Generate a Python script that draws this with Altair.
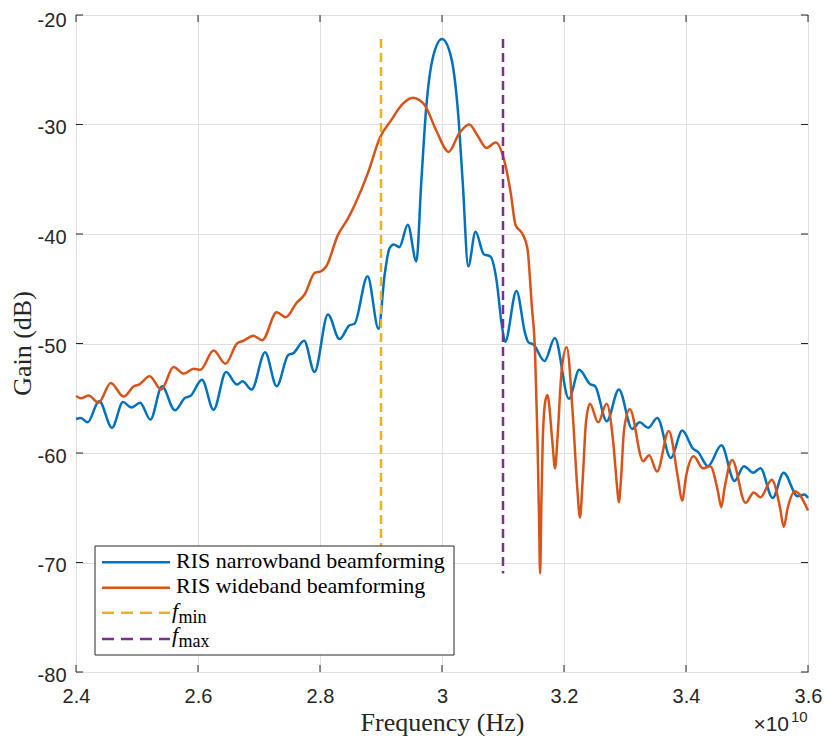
import altair as alt
import pandas as pd

# ---------------- data (frequency in units of 1e10 Hz, gain in dB) ----------------
narrow_f = [2.400, 2.408, 2.419, 2.438, 2.459, 2.477, 2.491, 2.505, 2.522, 2.541,
            2.562, 2.579, 2.5875, 2.6065, 2.6255, 2.646, 2.664, 2.673, 2.688, 2.710,
            2.729, 2.748, 2.756, 2.774, 2.791, 2.813, 2.832, 2.848, 2.8565, 2.878,
            2.896, 2.906, 2.914, 2.921, 2.930, 2.944, 2.958, 2.966, 2.974, 2.985,
            3.000, 3.0147, 3.026, 3.034, 3.043, 3.055, 3.0685, 3.0793, 3.0896, 3.0978,
            3.1035, 3.122, 3.1364, 3.1417, 3.150, 3.168, 3.185, 3.208, 3.225, 3.2425,
            3.251, 3.270, 3.290, 3.3117, 3.324, 3.338, 3.353, 3.375, 3.394, 3.4115,
            3.4196, 3.436, 3.458, 3.4795, 3.495, 3.510, 3.522, 3.542, 3.560, 3.583,
            3.594, 3.600]
narrow_g = [-56.9, -56.8, -57.2, -55.25, -57.7, -55.35, -55.85, -55.4, -56.95, -53.9,
            -56.1, -54.95, -54.8, -53.3, -56.05, -52.6, -53.75, -53.45, -54.2, -50.8,
            -53.9, -51.05, -50.9, -49.75, -52.6, -47.35, -49.6, -48.35, -48.2, -43.85,
            -48.65, -43.7, -41.3, -40.95, -41.2, -39.15, -42.5, -35.3, -28.55, -23.9,
            -22.2, -23.8, -28.7, -35.3, -42.95, -39.8, -41.85, -42.05, -44.3, -48.2,
            -49.85, -45.2, -49.1, -49.9, -50.1, -51.6, -49.5, -55.05, -52.4, -53.7,
            -53.9, -57.1, -54.2, -57.8, -57.2, -57.7, -56.8, -60.45, -57.95, -59.6,
            -59.9, -61.2, -59.3, -62.55, -61.2, -61.8, -61.4, -64.1, -61.8, -63.95,
            -63.8, -64.1]

wide_f = [2.400, 2.408, 2.4207, 2.437, 2.457, 2.478, 2.4951, 2.5033, 2.5207, 2.5397,
          2.560, 2.5766, 2.5929, 2.6038, 2.6255, 2.645, 2.664, 2.6745, 2.6908, 2.7054,
          2.729, 2.744, 2.7614, 2.775, 2.7913, 2.8022, 2.8103, 2.8293, 2.8457, 2.8565,
          2.8788, 2.8978, 2.9168, 2.9359, 2.9522, 2.9712, 2.9902, 3.0109, 3.0283, 3.0446,
          3.0582, 3.0728, 3.088, 3.1016, 3.1125, 3.1207, 3.1315, 3.140, 3.147, 3.1526,
          3.1564, 3.1591, 3.1608, 3.163, 3.1651, 3.169, 3.1728, 3.181, 3.1853, 3.1896,
          3.1962, 3.2044, 3.2142, 3.2218, 3.2262, 3.2305, 3.236, 3.2425, 3.2561, 3.2698,
          3.2807, 3.2872, 3.2899, 3.2932, 3.2986, 3.3079, 3.3297, 3.3395, 3.3526, 3.3717,
          3.3869, 3.3935, 3.4005, 3.4125, 3.4278, 3.4398, 3.4523, 3.4578, 3.4632, 3.4757,
          3.4975, 3.5111, 3.5221, 3.5406, 3.5542, 3.5602, 3.5668, 3.5787, 3.600]
wide_g = [-54.8, -55.0, -54.75, -55.4, -53.6, -54.85, -53.9, -53.75, -53.0, -54.2,
          -52.15, -52.75, -52.3, -52.4, -50.65, -51.85, -50.0, -49.75, -49.3, -49.7,
          -47.15, -47.6, -46.3, -45.5, -43.55, -43.4, -42.95, -40.1, -38.6, -37.4,
          -34.4, -31.25, -29.6, -28.1, -27.55, -28.2, -30.5, -32.5, -30.8, -30.0,
          -31.0, -32.15, -31.65, -33.2, -36.2, -39.2, -39.95, -41.3, -46.4, -50.9,
          -58.4, -65.9, -71.0, -64.4, -59.0, -55.4, -54.7, -59.0, -61.4, -58.4,
          -52.4, -50.35, -56.3, -63.2, -65.9, -62.6, -57.2, -55.5, -57.2, -55.5,
          -59.0, -63.2, -64.5, -62.6, -57.8, -56.0, -60.75, -60.2, -61.7, -58.0,
          -62.3, -64.35, -62.0, -60.3, -61.4, -61.2, -63.5, -64.95, -63.2, -60.65,
          -64.55, -63.6, -64.05, -62.45, -65.0, -66.75, -65.0, -63.5, -65.25]

band_f = [2.9, 3.1]
band_top = [-22.2, -22.2]
band_bottom = [-71.0, -71.0]

x_ticks = [2.4, 2.6, 2.8, 3.0, 3.2, 3.4, 3.6]
y_ticks = [-80, -70, -60, -50, -40, -30, -20]

legend_labels = ["RIS narrowband beamforming", "RIS wideband beamforming"]

# ---------------- styling ----------------
BLUE, ORANGE, YELLOW, PURPLE = "#0072BD", "#D95319", "#EDB120", "#7E2F8E"
AX = "#262626"
W, H = 732, 657
SANS = "Liberation Sans"
SERIF = "Liberation Serif"
LW = 2.5
DASH = [9, 5]

narrow = pd.DataFrame({"f": narrow_f, "g": narrow_g})
wide = pd.DataFrame({"f": wide_f, "g": wide_g})
bands = pd.DataFrame({"f": band_f, "g": band_top, "g2": band_bottom,
                      "c": [YELLOW, PURPLE]})
xt = pd.DataFrame({"f": x_ticks})
yt = pd.DataFrame({"g": y_ticks})

xscale = alt.Scale(domain=[2.4, 3.6], nice=False, zero=False)
yscale = alt.Scale(domain=[-80, -20], nice=False, zero=False)

x_axis = alt.Axis(values=x_ticks, labelExpr="'' + datum.value", title="Frequency (Hz)",
                  grid=True, gridColor="#dfdfdf", gridWidth=1, domain=False, ticks=False,
                  labelFlush=False, labelPadding=14, labelFont=SANS, labelFontSize=20,
                  labelColor=AX,
                  titleFont=SERIF, titleFontSize=26, titleFontWeight="normal", titleColor=AX,
                  titleX=366, titleY=58, titleAlign="center", titleBaseline="alphabetic")
y_axis = alt.Axis(values=y_ticks, labelExpr="'' + datum.value", title="Gain (dB)",
                  grid=True, gridColor="#dfdfdf", gridWidth=1, domain=False, ticks=False,
                  labelFlush=False, labelPadding=10,
                  labelOffset={"condition": {"test": "datum.value == -20", "value": 5},
                               "value": 3},
                  labelFont=SANS, labelFontSize=20, labelColor=AX,
                  titleFont=SERIF, titleFontSize=26, titleFontWeight="normal", titleColor=AX,
                  titleX=-46, titleY=328, titleAngle=270, titleAlign="center",
                  titleBaseline="alphabetic")

X = alt.X("f:Q", scale=xscale, axis=x_axis)
Y = alt.Y("g:Q", scale=yscale, axis=y_axis)
Xp = alt.X("f:Q", scale=xscale)
Yp = alt.Y("g:Q", scale=yscale)

blue_line = alt.Chart(narrow).mark_line(
    color=BLUE, strokeWidth=LW, interpolate="monotone").encode(x=X, y=Y)
orange_line = alt.Chart(wide).mark_line(
    color=ORANGE, strokeWidth=LW, interpolate="monotone").encode(x=Xp, y=Yp)

band_lines = alt.Chart(bands).mark_rule(strokeWidth=LW, strokeDash=DASH).encode(
    x=Xp, y=Yp, y2="g2:Q", color=alt.Color("c:N", scale=None, legend=None))

# inward ticks on all four sides
tick_len = 7
xtick_b = alt.Chart(xt).mark_rule(color=AX, strokeWidth=1).encode(
    x=Xp, y=alt.value(H), y2=alt.value(H - tick_len))
xtick_t = alt.Chart(xt).mark_rule(color=AX, strokeWidth=1).encode(
    x=Xp, y=alt.value(0), y2=alt.value(tick_len))
ytick_l = alt.Chart(yt).mark_rule(color=AX, strokeWidth=1).encode(
    y=Yp, x=alt.value(0), x2=alt.value(tick_len))
ytick_r = alt.Chart(yt).mark_rule(color=AX, strokeWidth=1).encode(
    y=Yp, x=alt.value(W), x2=alt.value(W - tick_len))

# legend box (drawn manually so that the subscripts can be rendered)
one = pd.DataFrame({"k": [0]})
leg_box = alt.Chart(one).mark_rect(fill="white", stroke=AX, strokeWidth=1).encode(
    x=alt.value(19), x2=alt.value(378), y=alt.value(531), y2=alt.value(640))

leg_rows_y = [547.3, 572.7, 597.7, 624]
leg_colors = [BLUE, ORANGE, YELLOW, PURPLE]
leg_layers = []
for i, (yy, cc) in enumerate(zip(leg_rows_y, leg_colors)):
    kw = {"color": cc, "strokeWidth": LW}
    if i >= 2:
        kw["strokeDash"] = [12, 7]
    leg_layers.append(alt.Chart(one).mark_rule(**kw).encode(
        x=alt.value(26), x2=alt.value(94), y=alt.value(yy)))


def txt(s, x, y, size, style="normal", font=SERIF, align="left", color="black"):
    return alt.Chart(pd.DataFrame({"s": [s]})).mark_text(
        align=align, baseline="alphabetic", font=font, fontSize=size,
        fontStyle=style, color=color).encode(x=alt.value(x), y=alt.value(y), text="s:N")


leg_layers.append(txt(legend_labels[0], 100, 553, 22))
leg_layers.append(txt(legend_labels[1], 100, 578, 22))
leg_layers.append(txt("f", 96, 603, 22, style="italic"))
leg_layers.append(txt("min", 102.5, 607.5, 18))
leg_layers.append(txt("f", 96, 627, 22, style="italic"))
leg_layers.append(txt("max", 102.5, 631.5, 18))

# exponent label  x10^10
exp_main = txt("×10", 713, 716, 21, font=SANS, align="right", color=AX)
exp_sup = txt("10", 715, 707, 15, font=SANS, color=AX)

chart = alt.layer(
    blue_line, orange_line, band_lines,
    xtick_b, xtick_t, ytick_l, ytick_r,
    leg_box, *leg_layers, exp_main, exp_sup
).properties(
    width=W, height=H,
    autosize=alt.AutoSizeParams(type="none"),
    padding={"left": 68, "top": 7, "right": 14, "bottom": 64},
    background="white",
).configure_view(stroke=AX, strokeWidth=1)

chart.save("out.html", embed_options={"renderer": "svg", "actions": False})
